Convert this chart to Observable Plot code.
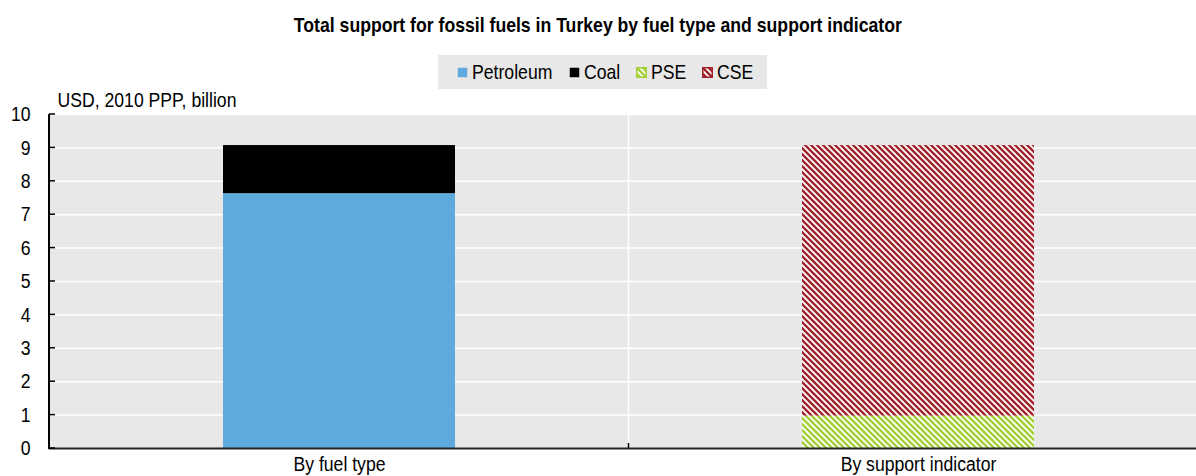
<!DOCTYPE html>
<html>
<head>
<meta charset="utf-8">
<script src="https://cdn.jsdelivr.net/npm/d3@7"></script>
<script src="https://cdn.jsdelivr.net/npm/@observablehq/plot@0.6"></script>
<style>
  html, body { margin: 0; padding: 0; background: #fff; }
  body { width: 1196px; height: 476px; position: relative; overflow: hidden;
         font-family: "Liberation Sans", Arial, sans-serif; color: #000; }
  #title { position: absolute; left: 0; top: 13px; width: 1196px; text-align: center;
           font-size: 21px; font-weight: bold; line-height: 24px;
           transform: scaleX(0.84); transform-origin: 597px 0; }
  #legend { position: absolute; left: 438px; top: 55px; width: 329px; height: 34px; background: #e8e8e8;
            display: flex; align-items: center; justify-content: center; font-size: 21px; padding-left: 6px; box-sizing: border-box; }
  #legend .item { display: flex; align-items: center; margin: 0 8px; }
  #legend .item svg { margin-right: 4px; flex: none; }
  #legend .item span { display: inline-block; transform: scaleX(0.84); transform-origin: 0 50%; white-space: nowrap; line-height: 24px; }
  #chart { position: absolute; left: 0; top: 84px; }
  #defs { position: absolute; width: 0; height: 0; }
</style>
</head>
<body>
<svg id="defs" width="0" height="0">
  <defs>
    <pattern id="pse" width="6" height="6" patternUnits="userSpaceOnUse">
      <rect width="6" height="6" fill="#fff"/>
      <path d="M-1,-1L7,7M-1,5L1,7M5,-1L7,1" stroke="#a2cf34" stroke-width="2.4"/>
    </pattern>
    <pattern id="cse" width="6" height="6" patternUnits="userSpaceOnUse">
      <rect width="6" height="6" fill="#fff"/>
      <path d="M-1,-1L7,7M-1,5L1,7M5,-1L7,1" stroke="#a1232c" stroke-width="2.4"/>
    </pattern>
  </defs>
</svg>
<div id="title">Total support for fossil fuels in Turkey by fuel type and support indicator</div>
<div id="legend"></div>
<div id="chart"></div>
<script>
// Categories along the x axis
const categories = ["By fuel type", "By support indicator"];

// Breakdown by fuel type (USD, 2010 PPP, billion)
const fuelSeries = ["Petroleum", "Coal"];
const fuelValues = [7.63, 1.44];

// Breakdown by support indicator (USD, 2010 PPP, billion)
const indicatorSeries = ["PSE", "CSE"];
const indicatorValues = [0.97, 8.10];

// Y axis ticks
const yTicks = [0, 1, 2, 3, 4, 5, 6, 7, 8, 9, 10];

const seriesNames = ["Petroleum", "Coal", "PSE", "CSE"];
const seriesFills = ["#5ea9dd", "#000000", "url(#pse)", "url(#cse)"];
const seriesEdges = [null, null, "#a2cf34", "#a1232c"];

const rows = [
  ...fuelSeries.map((s, i) => ({category: categories[0], series: s, value: fuelValues[i]})),
  ...indicatorSeries.map((s, i) => ({category: categories[1], series: s, value: indicatorValues[i]}))
];

// Condensed text: squeeze glyphs horizontally around their anchor
const SQUEEZE = 0.84;

// Legend
const legend = d3.select("#legend");
seriesNames.forEach((name, i) => {
  const item = legend.append("div").attr("class", "item");
  const sw = item.append("svg").attr("width", 11).attr("height", 11);
  sw.append("rect").attr("x", 0.75).attr("y", 0.75).attr("width", 9.5).attr("height", 9.5)
    .attr("fill", seriesFills[i])
    .attr("stroke", seriesEdges[i] || "none").attr("stroke-width", 1.5);
  const label = item.append("span").text(name);
  const w = label.node().offsetWidth;
  label.style("margin-right", `${-(1 - SQUEEZE) * w}px`);
});

// Category divider drawn over the background
function divider(index, scales) {
  const {x, y} = scales;
  const g = d3.create("svg:g");
  const xb = (x(categories[0]) + x(categories[1]) + x.bandwidth()) / 2;
  g.append("line")
    .attr("x1", xb).attr("x2", xb)
    .attr("y1", y(10)).attr("y2", y(0))
    .attr("stroke", "#fff").attr("stroke-width", 1.5);
  return g.node();
}

// Left axis line, inward ticks and category separator tick
function axisLines(index, scales, values, dims) {
  const {x, y} = scales;
  const g = d3.create("svg:g");
  const xb = (x(categories[0]) + x(categories[1]) + x.bandwidth()) / 2;
  const left = dims.marginLeft;
  g.append("line")
    .attr("x1", left).attr("x2", left)
    .attr("y1", y(10)).attr("y2", y(0) + 1)
    .attr("stroke", "#000").attr("stroke-width", 2);
  g.selectAll("line.tick").data(yTicks).join("line")
    .attr("class", "tick")
    .attr("x1", left).attr("x2", left + 6)
    .attr("y1", d => y(d)).attr("y2", d => y(d))
    .attr("stroke", "#000").attr("stroke-width", 1.5);
  g.append("line")
    .attr("x1", xb).attr("x2", xb)
    .attr("y1", y(0)).attr("y2", y(0) - 5)
    .attr("stroke", "#000").attr("stroke-width", 1.5);
  return g.node();
}

const chart = Plot.plot({
  width: 1196,
  height: 392,
  marginLeft: 49,
  marginRight: -11,
  marginTop: 30,
  marginBottom: 28,
  style: {fontFamily: '"Liberation Sans", Arial, sans-serif', fontSize: "21px", color: "#000", background: "transparent"},
  x: {domain: categories, paddingInner: 0.6, paddingOuter: 0.3, label: null},
  y: {domain: [0, 10], label: null},
  color: {domain: seriesNames, range: seriesFills},
  marks: [
    Plot.frame({fill: "#e8e8e8", stroke: "none"}),
    Plot.gridY(yTicks, {stroke: "#fff", strokeOpacity: 1, strokeWidth: 1.5}),
    divider,
    Plot.barY(rows, {x: "category", y: "value", fill: "series"}),
    Plot.ruleY([0], {stroke: "#222", strokeWidth: 2}),
    axisLines,
    Plot.axisY(yTicks, {tickSize: 0, tickPadding: 19, fontSize: 21, label: null}),
    Plot.axisX({tickSize: 0, tickPadding: 8, fontSize: 21, label: null}),
    Plot.text(["USD, 2010 PPP, billion"], {frameAnchor: "top-left", dx: 8, dy: -14, lineAnchor: "middle", textAnchor: "start", fontSize: 21})
  ]
});

// Apply the horizontal squeeze to every SVG text around its own anchor point
d3.select(chart).selectAll("text").each(function() {
  const t = d3.select(this);
  const tr = t.attr("transform");
  if (tr) {
    t.attr("transform", `${tr} scale(${SQUEEZE},1)`);
  } else {
    const x = +(t.attr("x") || 0);
    t.attr("transform", `translate(${x},0) scale(${SQUEEZE},1) translate(${-x},0)`);
  }
});

document.getElementById("chart").appendChild(chart);
</script>
</body>
</html>
